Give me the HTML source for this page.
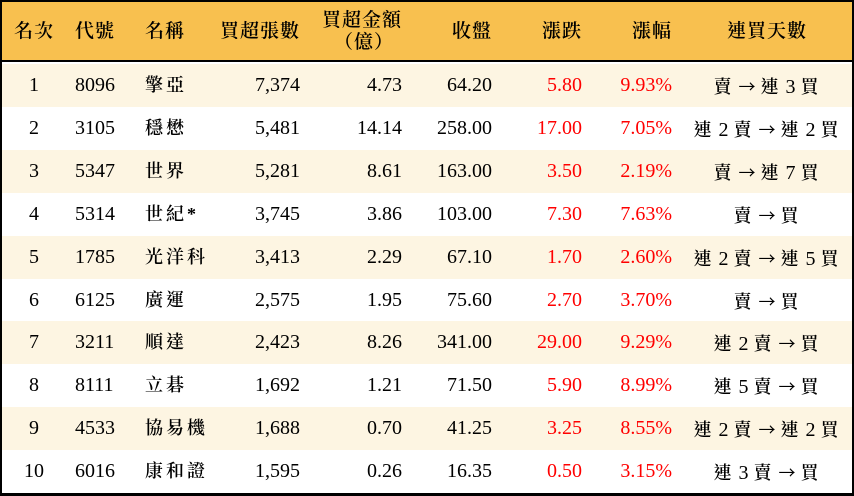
<!DOCTYPE html>
<html><head><meta charset="utf-8"><style>
*{margin:0;padding:0;box-sizing:border-box}
body{width:854px;height:496px;overflow:hidden;background:#fff;font-family:"Liberation Serif","Noto Serif CJK TC","Noto Serif CJK SC",serif;font-size:20px;color:#000}
#w{position:absolute;left:0;top:0;width:854px;height:496px;border:2px solid #000;border-bottom-width:3px;border-right-width:2px}
#h{position:absolute;left:0;top:0;width:850px;height:60px;background:#f8c04f;border-bottom:2px solid #000}
.r{position:absolute;left:0;width:850px;height:43px}
.c{position:absolute;top:0;line-height:43px;white-space:nowrap}
.hc{position:absolute;white-space:nowrap;line-height:22px;font-weight:600;letter-spacing:1px;font-size:19px}
.red{color:#f00}
.a{font-family:"Noto Sans CJK TC",sans-serif;font-size:17px}
.k{font-weight:600;letter-spacing:2px;font-size:18px}
</style></head><body><div id="w">
<div id="h">
<div class="hc" style="left:0;width:64px;text-align:center;top:19px">名次</div>
<div class="hc" style="left:73px;top:19px">代號</div>
<div class="hc" style="left:143px;top:19px">名稱</div>
<div class="hc" style="right:552px;top:19px">買超張數</div>
<div class="hc" style="right:450px;top:8px">買超金額</div>
<div class="hc" style="right:458px;top:30px">（億）</div>
<div class="hc" style="right:360px;top:19px">收盤</div>
<div class="hc" style="right:270px;top:19px">漲跌</div>
<div class="hc" style="right:180px;top:19px">漲幅</div>
<div class="hc" style="left:682px;width:166px;text-align:center;top:19px">連買天數</div>
</div>
<div id="rows"></div>
</div>
<script>
var d=[["1","8096","擎亞","7,374","4.73","64.20","5.80","9.93%","賣 → 連 3 買"],
["2","3105","穩懋","5,481","14.14","258.00","17.00","7.05%","連 2 賣 → 連 2 買"],
["3","5347","世界","5,281","8.61","163.00","3.50","2.19%","賣 → 連 7 買"],
["4","5314","世紀*","3,745","3.86","103.00","7.30","7.63%","賣 → 買"],
["5","1785","光洋科","3,413","2.29","67.10","1.70","2.60%","連 2 賣 → 連 5 買"],
["6","6125","廣運","2,575","1.95","75.60","2.70","3.70%","賣 → 買"],
["7","3211","順達","2,423","8.26","341.00","29.00","9.29%","連 2 賣 → 買"],
["8","8111","立碁","1,692","1.21","71.50","5.90","8.99%","連 5 賣 → 買"],
["9","4533","協易機","1,688","0.70","41.25","3.25","8.55%","連 2 賣 → 連 2 買"],
["10","6016","康和證","1,595","0.26","16.35","0.50","3.15%","連 3 賣 → 買"]];
var h="";
d.forEach(function(r,i){
var top=62+i*42.9;
var last=r[8].replace("→",'<span class="a">→</span>').replace(/([連賣買])/g,'<span class="k">$1</span>');
h+='<div class="r" style="top:'+top+'px;background:'+(i%2==0?'#fdf5e2':'#fff')+'">'+
'<div class="c" style="left:0;width:64px;text-align:center">'+r[0]+'</div>'+
'<div class="c" style="left:73px">'+r[1]+'</div>'+
'<div class="c k" style="left:143px;letter-spacing:3px">'+r[2]+'</div>'+
'<div class="c" style="right:552px">'+r[3]+'</div>'+
'<div class="c" style="right:450px">'+r[4]+'</div>'+
'<div class="c" style="right:360px">'+r[5]+'</div>'+
'<div class="c red" style="right:270px">'+r[6]+'</div>'+
'<div class="c red" style="right:180px">'+r[7]+'</div>'+
'<div class="c" style="left:682px;width:166px;text-align:center">'+last+'</div></div>';
});
document.getElementById("rows").innerHTML=h;
</script>
</body></html>
